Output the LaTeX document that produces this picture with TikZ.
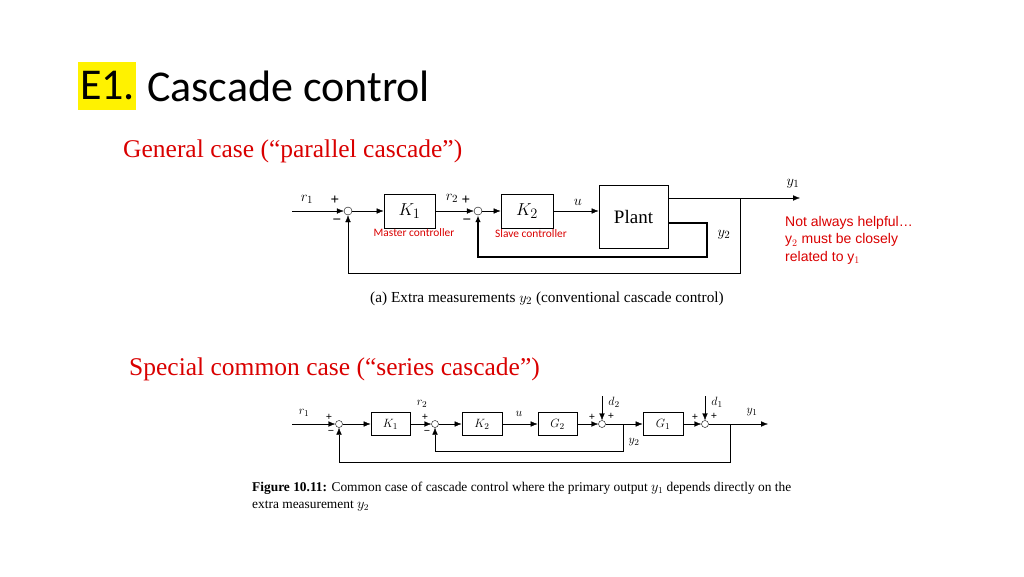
\documentclass[tikz,border=0pt]{standalone}
\usepackage{fontspec}
\setmainfont{Liberation Serif}
\newfontfamily\calib{Carlito}
\newfontfamily\arial{Liberation Sans}
\usetikzlibrary{arrows.meta}
\begin{document}
\begin{tikzpicture}[x=1pt,y=-1pt,
  blk/.style={draw,thick,minimum height=0},
  sumn/.style={draw,circle,inner sep=0,minimum size=8},
  sig/.style={-{Latex[length=7,width=5.5]}},
  lbl/.style={inner sep=1,font=\fontsize{15}{15}\selectfont\itshape},
  slbl/.style={inner sep=1,font=\fontsize{12.5}{12.5}\selectfont\itshape},
  pm/.style={inner sep=0,font=\fontsize{15}{15}\selectfont\bfseries},
  spm/.style={inner sep=0,font=\fontsize{11}{11}\selectfont\bfseries},
  red/.style={text=red!85!black}]
\useasboundingbox (0,0) rectangle (1024,576);
\fill[yellow] (78,62) rectangle (136,110);
\node[anchor=west,inner sep=0,font=\calib\fontsize{44}{44}\selectfont] (title) at (80,86) {E1.};
\node[anchor=west,inner sep=0,font=\calib\fontsize{44}{44}\selectfont] (title2) at (147,86) {Cascade control};
\node[anchor=west,red,inner sep=0,font=\fontsize{25.5}{25.5}\selectfont] (s1) at (123,151) {General case (“parallel cascade”)};
\node[anchor=west,red,inner sep=0,font=\fontsize{25.5}{25.5}\selectfont] (s2) at (129,369) {Special common case (“series cascade”)};
% top
\coordinate (in1) at (292,211);
\node[sumn] (a1) at (348,211) {};
\node[blk,minimum width=51,minimum height=34] (k1) at (409.5,211) {\fontsize{19}{19}\selectfont$K_1$};
\node[sumn] (a2) at (478,211) {};
\node[blk,minimum width=52,minimum height=34] (k2) at (527,211) {\fontsize{19}{19}\selectfont$K_2$};
\node[blk,minimum width=69,minimum height=63] (pl) at (633.5,216.5) {\fontsize{19}{19}\selectfont Plant};
\coordinate (o1) at (668,198); \coordinate (e1) at (800,198); \coordinate (b1) at (740,198);
\draw[sig] (in1) -- (a1.west);
\draw[sig] (a1) -- (k1);
\draw[sig] (k1) -- (a2.west);
\draw[sig] (a2) -- (k2);
\draw[sig] (k2) -- (pl.west|-k2);
\draw[sig] (o1) -- (e1);
\draw[sig] (b1) -- (740,273) -- (348,273) -- (a1.south);
\draw[sig,line width=1.6] (668,223) -- (707,223) -- (707,257) -- (478,257) -- (a2.south);
\node[lbl] (r1) at (307,199) {$r_1$};
\node[lbl] (r2) at (452,198) {$r_2$};
\node[lbl] (u) at (578,202) {$u$};
\node[lbl] (y1) at (793,184) {$y_1$};
\node[lbl] (y2) at (724,235) {$y_2$};
\node[pm] (p1) at (335,200) {+}; \node[pm] (m1) at (337,222) {\textminus};
\node[pm] (p2) at (466,200) {+}; \node[pm] (m2) at (467,222) {\textminus};
\node[red,inner sep=0,font=\calib\fontsize{11.4}{11.4}\selectfont] (mc) at (414,233) {Master controller};
\node[red,inner sep=0,font=\calib\fontsize{11.4}{11.4}\selectfont] (sc) at (531,234) {Slave controller};
\node[red,anchor=north west,inner sep=0,align=left,font=\arial\fontsize{14}{17.5}\selectfont] (note) at (785,216) {Not always helpful…\\y$_2$ must be closely\\related to y$_1$};
\node[inner sep=0,font=\fontsize{15.3}{15.3}\selectfont] (cap1) at (547,299) {(a) Extra measurements $y_2$ (conventional cascade control)};
% bottom
\coordinate (in2) at (292,424);
\node[sumn,minimum size=7] (c1) at (339,424) {};
\node[blk,minimum width=39,minimum height=23] (bk1) at (390.5,424) {\fontsize{13}{13}\selectfont$K_1$};
\node[sumn,minimum size=7] (c2) at (435,424) {};
\node[blk,minimum width=40,minimum height=23] (bk2) at (482,424) {\fontsize{13}{13}\selectfont$K_2$};
\node[blk,minimum width=39,minimum height=23] (g2) at (557.5,424) {\fontsize{13}{13}\selectfont$G_2$};
\node[sumn,minimum size=7] (c3) at (602,424) {};
\node[blk,minimum width=40,minimum height=23] (g1) at (663,424) {\fontsize{13}{13}\selectfont$G_1$};
\node[sumn,minimum size=7] (c4) at (705,424) {};
\coordinate (e2) at (768,424);
\draw[sig] (in2) -- (c1.west);
\draw[sig] (c1) -- (bk1);
\draw[sig] (bk1) -- (c2.west);
\draw[sig] (c2) -- (bk2);
\draw[sig] (bk2) -- (g2);
\draw[sig] (g2) -- (c3.west);
\draw[sig] (c3) -- (g1);
\draw[sig] (g1) -- (c4.west);
\draw[sig] (c4) -- (e2);
\draw[sig] (602,396) -- (c3.north);
\draw[sig] (705,396) -- (c4.north);
\draw[sig] (623,424) -- (623,451) -- (435,451) -- (c2.south);
\draw[sig] (730,424) -- (730,462) -- (339,462) -- (c1.south);
\node[slbl] at (304,413) {$r_1$};
\node[slbl] at (422,404) {$r_2$};
\node[slbl] at (519,414) {$u$};
\node[slbl] at (614,402) {$d_2$};
\node[slbl] at (717,402) {$d_1$};
\node[slbl] at (752,412) {$y_1$};
\node[slbl] at (634,442) {$y_2$};
\foreach \x/\n in {329/a,425/b,592/c,695/d}{\node[spm] (q\n) at (\x,417) {+};}
\node[spm] at (611,416) {+};
\node[spm] at (714,416) {+};
\node[spm] at (331,432) {\textminus};
\node[spm] at (427,432) {\textminus};
\node[anchor=north west,inner sep=0,align=left,font=\fontsize{13.4}{17}\selectfont] (cap2) at (252,482) {\textbf{Figure 10.11:} Common case of cascade control where the primary output $y_1$ depends directly on the\\extra measurement $y_2$};
\end{tikzpicture}
\end{document}
